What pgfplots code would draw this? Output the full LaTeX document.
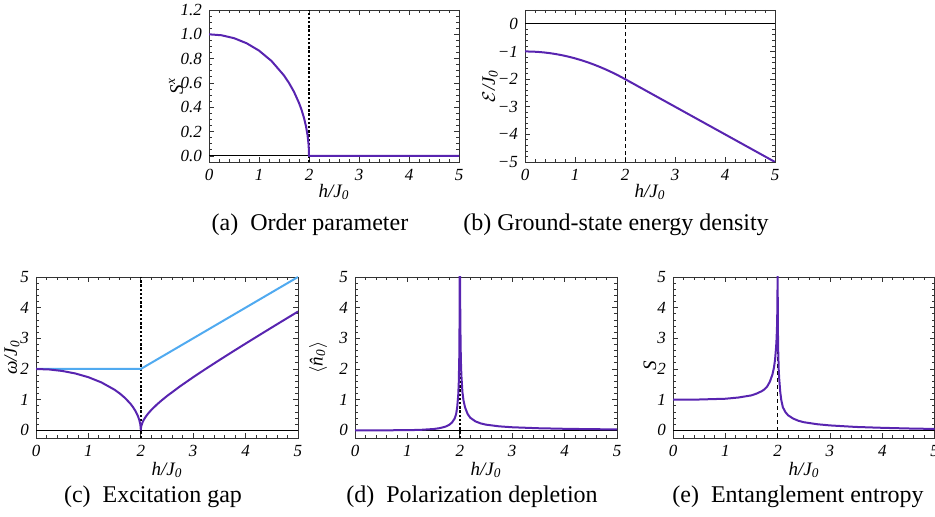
\documentclass[border=0pt]{standalone}
\usepackage{fontspec}
\setmainfont{Liberation Serif}
\usepackage{pgfplots}
\pgfplotsset{compat=1.18}
\definecolor{mpurple}{RGB}{88,36,176}
\definecolor{mblue}{RGB}{80,170,240}
\pgfplotsset{
 frm/.style={scale only axis, anchor=south west, xmin=0, xmax=5, xtick={0,1,2,3,4,5}, minor x tick num=4,
   tick align=inside, major tick length=2.4pt, minor tick length=1.3pt,
   axis line style={black!80, line width=0.45pt},
   every tick/.style={black!80, line width=0.4pt},
   ticklabel style={font=\fontsize{8.5}{9}\selectfont\itshape},
   /pgf/number format/assume math mode=true,
   ylabel style={font=\fontsize{9.5}{10}\selectfont\itshape, anchor=center}},
 cur/.style={mpurple, line width=1pt},
 zl/.style={black, line width=0.5pt},
 vd/.style={black, line width=0.85pt, dash pattern=on 1.2pt off 0.9pt},
 vdt/.style={black, line width=0.4pt, dash pattern=on 2pt off 1.5pt}
}
\newcommand{\hJ}{\fontsize{9.5}{10}\selectfont\itshape h/J\textsubscript{0}}
\begin{document}
\begin{tikzpicture}
\useasboundingbox (0,0) rectangle (467.5pt,258.5pt);

% (a)
\begin{axis}[frm, at={(104.5pt,177.5pt)}, width=125pt, height=76pt,
  ymin=-0.05, ymax=1.2, ytick={0,0.2,0.4,0.6,0.8,1.0,1.2}, minor y tick num=3,
  yticklabel style={/pgf/number format/.cd, fixed, fixed zerofill, precision=1},
  ylabel={S\textsuperscript{x}},
  ylabel style={at={(axis description cs:-0.132,0.5)}}]
\addplot[zl] coordinates {(0,0) (5,0)};
\addplot[vd] coordinates {(2,-0.05) (2,1.2)};
\addplot[cur] coordinates {(0,1) (0.25,0.99216) (0.5,0.96825) (0.75,0.92702) (1,0.86603) (1.25,0.78062) (1.5,0.66144) (1.6,0.6) (1.7,0.52678) (1.8,0.43589) (1.85,0.37997) (1.9,0.31225) (1.94,0.24310) (1.97,0.17255) (1.99,0.09987) (1.998,0.04471) (2,0) (5,0)};
\end{axis}

% (b)
\begin{axis}[frm, at={(262.5pt,177.5pt)}, width=125pt, height=76pt,
  ymin=-5, ymax=0.5, ytick={-5,-4,-3,-2,-1,0}, minor y tick num=4,
  yticklabels={−5,−4,−3,−2,−1,0},
  ylabel={$\mathcal{E}$/J\textsubscript{0}},
  ylabel style={at={(axis description cs:-0.14,0.5)}}]
\addplot[zl] coordinates {(0,0) (5,0)};
\addplot[vdt] coordinates {(2,-5) (2,0.5)};
\addplot[cur] coordinates {(0,-1) (0.125,-1.00391) (0.25,-1.01563) (0.375,-1.03516) (0.5,-1.0625) (0.625,-1.09766) (0.75,-1.14063) (0.875,-1.19141) (1,-1.25) (1.125,-1.31641) (1.25,-1.39063) (1.375,-1.47266) (1.5,-1.5625) (1.625,-1.66016) (1.75,-1.76563) (1.875,-1.87891) (2,-2) (5,-5)};
\end{axis}

% (c)
\begin{axis}[frm, at={(18pt,39.5pt)}, width=131pt, height=80.5pt,
  ymin=-0.25, ymax=5, ytick={0,1,2,3,4,5}, minor y tick num=4,
  ylabel={ω/J\textsubscript{0}},
  ylabel style={at={(axis description cs:-0.092,0.5)}}]
\addplot[zl] coordinates {(0,0) (5,0)};
\addplot[vd] coordinates {(2,-0.25) (2,5)};
\addplot[mblue, line width=1pt] coordinates {(0,2) (2,2) (5,5)};
\addplot[cur] coordinates {(0,2) (0.25,1.98431) (0.5,1.93649) (0.75,1.85405) (1,1.73205) (1.25,1.56125) (1.5,1.32288) (1.6,1.2) (1.7,1.05357) (1.8,0.87178) (1.85,0.75993) (1.9,0.62450) (1.94,0.48621) (1.97,0.34511) (1.99,0.19975) (1.998,0.08942) (2,0)
 (2.002,0.06328) (2.01,0.14177) (2.03,0.24678) (2.06,0.35157) (2.1,0.45826) (2.15,0.56789) (2.2,0.66332) (2.3,0.83066) (2.4,0.97980) (2.5,1.11803) (2.75,1.43614) (3,1.73205) (3.25,2.01556) (3.5,2.29129) (3.75,2.56174) (4,2.82843) (4.25,3.09233) (4.5,3.35410) (4.75,3.61421) (5,3.87298)};
\end{axis}

% (d)
\begin{axis}[frm, at={(177.5pt,39.5pt)}, width=131pt, height=80.5pt,
  ymin=-0.25, ymax=5, ytick={0,1,2,3,4,5}, minor y tick num=4,
  ylabel={$\langle$\^{n}\textsubscript{0}$\rangle$},
  ylabel style={at={(axis description cs:-0.141,0.5)}}]
\addplot[zl] coordinates {(0,0) (5,0)};
\addplot[vd] coordinates {(2,-0.25) (2,5)};
\addplot[cur] coordinates {(0,0) (0.5,0.0003) (1,0.0052) (1.25,0.0154) (1.5,0.043) (1.6,0.0667) (1.7,0.106) (1.75,0.137) (1.8,0.183) (1.85,0.253) (1.9,0.379) (1.93,0.53) (1.95,0.75) (1.97,1.15) (1.98,1.55) (1.99,2.4) (1.995,3.5) (1.998,5.5) (1.999,7.4)
 (2.001,10.7) (2.002,7.4) (2.005,5.0) (2.01,3.5) (2.02,2.3) (2.03,1.8) (2.05,1.25) (2.07,0.98) (2.1,0.75) (2.15,0.53) (2.2,0.41) (2.3,0.29) (2.4,0.225) (2.5,0.185) (2.75,0.13) (3,0.10) (3.5,0.068) (4,0.05) (4.5,0.038) (5,0.03)};
\end{axis}

% (e)
\begin{axis}[frm, at={(336.5pt,39.5pt)}, width=130.8pt, height=80.5pt,
  ymin=-0.25, ymax=5, ytick={0,1,2,3,4,5}, minor y tick num=4,
  ylabel={S},
  ylabel style={at={(axis description cs:-0.088,0.45)}}]
\addplot[zl] coordinates {(0,0) (5,0)};
\addplot[vdt] coordinates {(2,-0.25) (2,5)};
\addplot[cur] coordinates {(0,1) (0.5,1.005) (1,1.03) (1.25,1.07) (1.5,1.14) (1.6,1.2) (1.7,1.28) (1.75,1.34) (1.8,1.43) (1.85,1.58) (1.9,1.82) (1.93,2.05) (1.95,2.3) (1.97,2.7) (1.98,3.0) (1.99,3.5) (1.995,4.1) (1.998,4.8) (1.9995,5.5)
 (2.0005,5.5) (2.002,4.2) (2.005,3.3) (2.01,2.65) (2.02,2.0) (2.03,1.68) (2.05,1.25) (2.07,0.98) (2.1,0.75) (2.15,0.59) (2.2,0.49) (2.3,0.38) (2.4,0.31) (2.5,0.265) (2.75,0.2) (3,0.16) (3.5,0.11) (4,0.082) (4.5,0.06) (5,0.045)};
\end{axis}

% x-axis labels
\node at (167pt,162.5pt) {\hJ};
\node at (325pt,162.5pt) {\hJ};
\node at (83.5pt,23.5pt) {\hJ};
\node at (243pt,23.5pt) {\hJ};
\node at (402pt,23.5pt) {\hJ};

\node[font=\fontsize{12}{12}\selectfont] at (155pt,146pt) {(a)~~Order parameter};
\node[font=\fontsize{12}{12}\selectfont] at (308pt,146pt) {(b) Ground-state energy density};
\node[font=\fontsize{12}{12}\selectfont] at (76.5pt,10pt) {(c)~~Excitation gap};
\node[font=\fontsize{12}{12}\selectfont] at (236pt,10pt) {(d)~~Polarization depletion};
\node[font=\fontsize{12}{12}\selectfont] at (399pt,10pt) {(e)~~Entanglement entropy};
\end{tikzpicture}
\end{document}
